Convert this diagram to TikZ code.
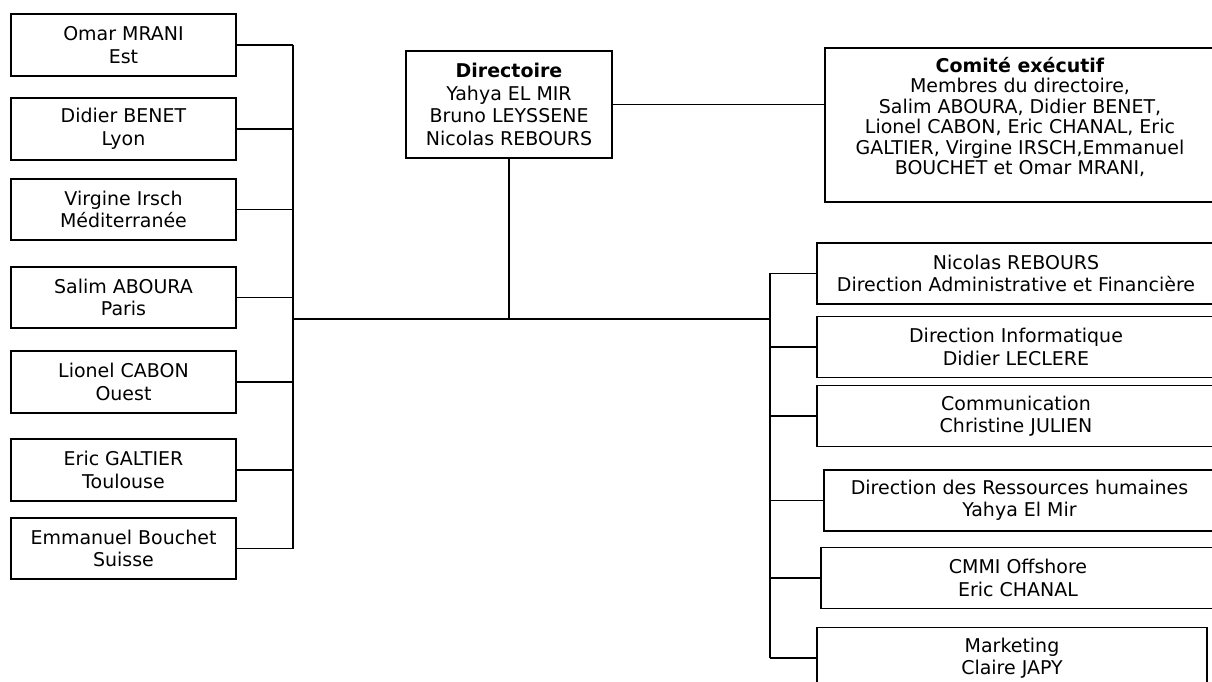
\documentclass[tikz,border=0pt]{standalone}
\usepackage{fontspec}
\setmainfont{DejaVu Sans}
\usetikzlibrary{positioning,calc}

\tikzset{
  orgbox/.style={draw=black,line width=1.4pt,align=center,inner sep=0pt,
                 font=\fontsize{13.5}{16}\selectfont},
  orgline/.style={line width=1.4pt}
}

\begin{document}
\begin{tikzpicture}[x=0.025cm,y=-0.025cm]

    \useasboundingbox (0,0) rectangle (1212,682);
    \clip (0,0) rectangle (1212,682);

    % directions regionales
    \foreach \n/\y/\txt in {
      rEst/45/{Omar MRANI\\Est},
      rLyon/129/{Didier BENET\\Lyon},
      rMed/209.5/{Virgine Irsch\\Méditerranée},
      rParis/297.5/{Salim ABOURA\\Paris},
      rOuest/382/{Lionel CABON\\Ouest},
      rToul/470/{Eric GALTIER\\Toulouse},
      rSuisse/548.5/{Emmanuel Bouchet\\Suisse}}{
      \node[orgbox,minimum width=5.625cm,minimum height=1.54cm] (\n) at (123.5,\y) {\txt};
    }

    \node[orgbox,minimum width=5.15cm,minimum height=2.675cm] (dir) at (509,104.5)
      {\textbf{Directoire}\\Yahya EL MIR\\Bruno LEYSSENE\\Nicolas REBOURS};

    \node[orgbox,font=\fontsize{13.5}{14.6}\selectfont,text depth=13pt,
          minimum width=9.75cm,minimum height=3.85cm] (comex) at (1020,125)
      {\textbf{Comité exécutif}\\Membres du directoire,\\Salim ABOURA, Didier BENET,\\
       Lionel CABON, Eric CHANAL, Eric\\GALTIER, Virgine IRSCH,Emmanuel\\BOUCHET et Omar MRANI,};

    % directions fonctionnelles
    \foreach \n/\x/\y/\w/\txt in {
      fDaf/1016/273.5/9.95/{Nicolas REBOURS\\Direction Administrative et Financière},
      fInfo/1016/347/9.95/{Direction Informatique\\Didier LECLERE},
      fCom/1016/416/9.95/{Communication\\Christine JULIEN},
      fRh/1019.5/500.5/9.775/{Direction des Ressources humaines\\Yahya El Mir},
      fCmmi/1018/578/9.85/{CMMI Offshore\\Eric CHANAL},
      fMkt/1012/658/9.75/{Marketing\\Claire JAPY}}{
      \node[orgbox,minimum width=\w cm,minimum height=1.525cm] (\n) at (\x,\y) {\txt};
    }

    \coordinate (lbus) at (293,319);
    \coordinate (rbus) at (770,319);

    \draw[orgline] (lbus) -- (rbus);
    \draw[orgline] (dir.south) -- (dir.south |- lbus);
    \draw[orgline] (dir.east) -- (comex.west |- dir.east);

    \foreach \n in {rEst,rLyon,rMed,rParis,rOuest,rToul,rSuisse}
      \draw[orgline] (\n.east) -- (\n.east -| lbus);
    \draw[orgline] (rEst.east -| lbus) -- (rSuisse.east -| lbus);

    \foreach \n in {fDaf,fInfo,fCom,fRh,fCmmi,fMkt}
      \draw[orgline] (\n.west) -- (\n.west -| rbus);
    \draw[orgline] (fDaf.west -| rbus) -- (fMkt.west -| rbus);

  \end{tikzpicture}
\end{document}
